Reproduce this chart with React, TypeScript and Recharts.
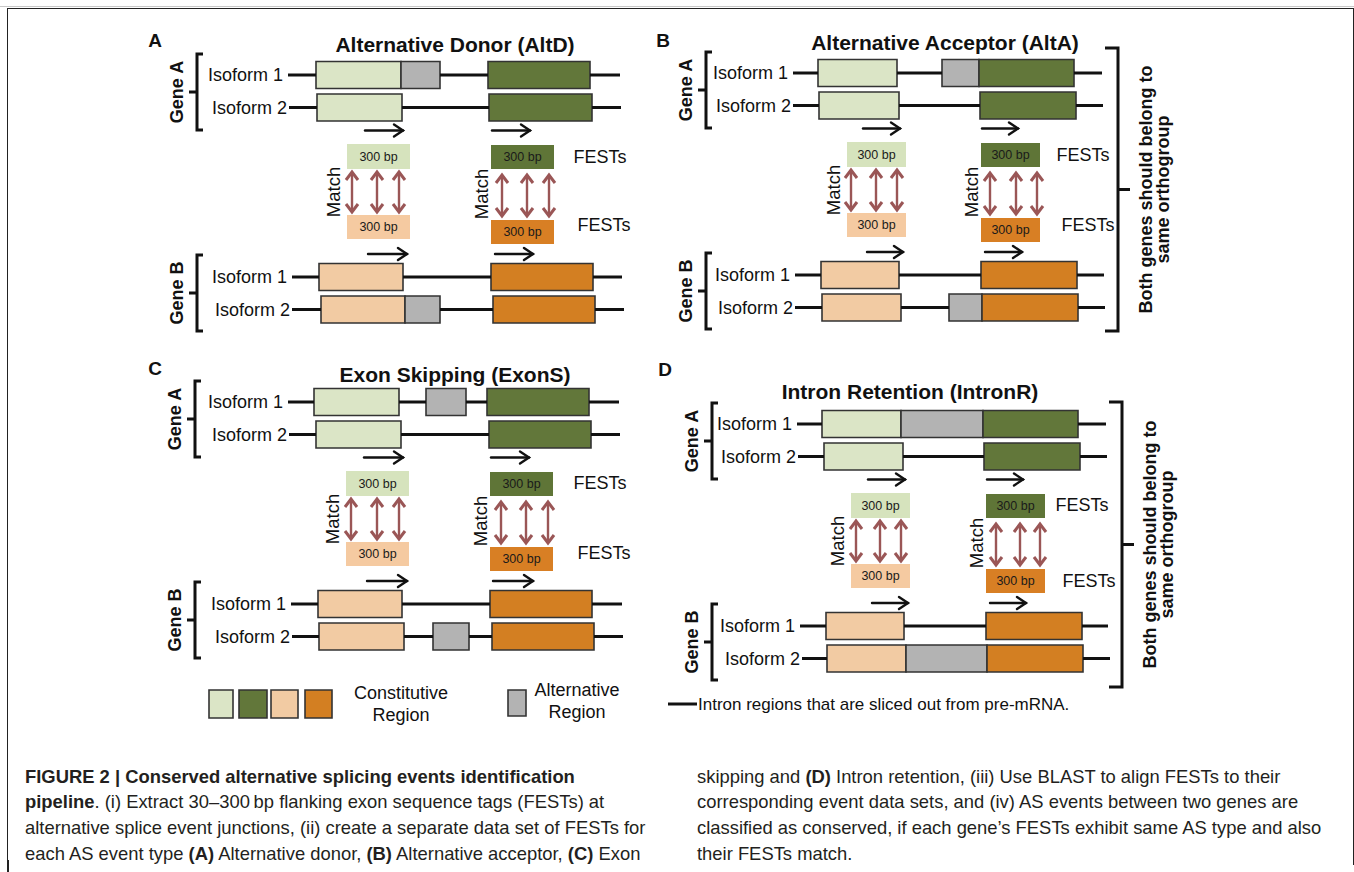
import React from "react";
import {
  ComposedChart,
  XAxis,
  YAxis,
  Scatter,
  ReferenceArea,
  ReferenceLine,
  ReferenceDot,
} from "recharts";

const FONT = "'Liberation Sans', Arial, Helvetica, sans-serif";
const W = 1354;
const H = 872;

const EXON_FILL: Record<string, string> = {
  lg: "#dbe5c6",
  dg: "#62773a",
  lo: "#f2cba3",
  do: "#d37f22",
  alt: "#b3b3b3",
};
const FEST_FILL = ["#d6e3bd", "#5f7537", "#f5caa1", "#d87f24"];

type Exon = [number, number, string];
type Row = { span: [number, number]; exons: Exon[] };

const isoformLabels = ["Isoform 1", "Isoform 2", "Isoform 1", "Isoform 2"];
const geneLabels = ["Gene A", "Gene B"];

// exon / intron coordinates along each locus, measured from the start of the first intron line
const altDRows: Row[] = [
  { span: [0, 332], exons: [[28, 113, "lg"], [113, 152, "alt"], [200, 302, "dg"]] },
  { span: [1, 333], exons: [[29, 114, "lg"], [201, 304, "dg"]] },
  { span: [4, 334], exons: [[31, 115, "lo"], [203, 305, "do"]] },
  { span: [4, 336], exons: [[33, 117, "lo"], [117, 152, "alt"], [205, 307, "do"]] },
];
const altARows: Row[] = [
  { span: [0, 309], exons: [[25, 104, "lg"], [149, 186, "alt"], [186, 281, "dg"]] },
  { span: [0, 310], exons: [[26, 106, "lg"], [187, 283, "dg"]] },
  { span: [2, 311], exons: [[28, 106, "lo"], [188, 284, "do"]] },
  { span: [2, 312], exons: [[29, 108, "lo"], [156, 189, "alt"], [189, 285, "do"]] },
];
const exonSRows: Row[] = [
  { span: [0, 331], exons: [[26, 111, "lg"], [138, 178, "alt"], [199, 301, "dg"]] },
  { span: [1, 332], exons: [[28, 113, "lg"], [201, 303, "dg"]] },
  { span: [3, 334], exons: [[30, 114, "lo"], [202, 304, "do"]] },
  { span: [4, 335], exons: [[31, 116, "lo"], [145, 181, "alt"], [204, 306, "do"]] },
];
const intronRRows: Row[] = [
  { span: [0, 309], exons: [[25, 104, "lg"], [104, 186, "alt"], [186, 281, "dg"]] },
  { span: [1, 310], exons: [[27, 106, "lg"], [187, 283, "dg"]] },
  { span: [3, 311], exons: [[29, 107, "lo"], [189, 285, "do"]] },
  { span: [5, 313], exons: [[30, 109, "lo"], [109, 190, "alt"], [190, 286, "do"]] },
];

// FEST block starts (left, right)
const altDFests = [59, 203];
const altAFests = [54, 188];
const exonSFests = [58, 202];
const intronRFests = [54, 189];

// match arrows (left group, right group)
const altDMatch = [[64, 89, 111], [214, 239, 261]];
const altAMatch = [[58, 83, 104], [197, 223, 244]];
const exonSMatch = [[63, 89, 111], [213, 238, 260]];
const intronRMatch = [[59, 83, 104], [199, 223, 243]];

// direction arrows: gene A left, gene A right, gene B left, gene B right
const altDArrows = [[77, 115], [204, 242], [80, 119], [207, 245]];
const altAArrows = [[70, 107], [189, 225], [74, 110], [192, 229]];
const exonSArrows = [[76, 115], [203, 241], [79, 119], [205, 245]];
const intronRArrows = [[71, 108], [190, 226], [75, 111], [193, 229]];

const festLabel = "300 bp";
const festsText = "FESTs";
const orthoLines = ["Both genes should belong to", "same orthogroup"];

const legendSwatches = [
  { x: [209, 233], fill: "lg" },
  { x: [239, 267], fill: "dg" },
  { x: [271, 298], fill: "lo" },
  { x: [305, 332], fill: "do" },
];
const legendAlt = { x: [508, 526], fill: "alt" };
const legendText = [
  { x: 401, lines: ["Constitutive", "Region"] },
  { x: 577, lines: ["Alternative", "Region"] },
];
const intronLegend = "Intron regions that are sliced out from pre-mRNA.";

const ROW_Y = [0, 32.5, 202, 234.5];
const EXON_HALF = 13.5;

type Panel = {
  letter: string;
  title: string;
  ox: number;
  oy: number;
  rows: Row[];
  fests: number[];
  festW: number;
  match: number[][];
  arrows: number[][];
  bracketX: number;
  titleX: number;
  titleY: number;
  letterPos: [number, number];
  festsLabelX: [number, number];
  festsLabelY: [number, number];
  big?: [number, number];
};

const panels: Panel[] = [
  {
    letter: "A", title: "Alternative Donor (AltD)", ox: 288, oy: 75, rows: altDRows,
    fests: altDFests, festW: 63, match: altDMatch, arrows: altDArrows, bracketX: -91,
    titleX: 167, titleY: -31, letterPos: [-133, -35], festsLabelX: [312, 316], festsLabelY: [82, 150],
  },
  {
    letter: "B", title: "Alternative Acceptor (AltA)", ox: 793, oy: 73, rows: altARows,
    fests: altAFests, festW: 59, match: altAMatch, arrows: altAArrows, bracketX: -87,
    titleX: 152, titleY: -31, letterPos: [-130, -33], festsLabelX: [290, 295], festsLabelY: [82, 152],
    big: [-25, 258],
  },
  {
    letter: "C", title: "Exon Skipping (ExonS)", ox: 288, oy: 402, rows: exonSRows,
    fests: exonSFests, festW: 63, match: exonSMatch, arrows: exonSArrows, bracketX: -93,
    titleX: 167, titleY: -28, letterPos: [-133, -34], festsLabelX: [312, 316], festsLabelY: [81, 151],
  },
  {
    letter: "D", title: "Intron Retention (IntronR)", ox: 797, oy: 424, rows: intronRRows,
    fests: intronRFests, festW: 59, match: intronRMatch, arrows: intronRArrows, bracketX: -85,
    titleX: 113, titleY: -33, letterPos: [-132, -55], festsLabelX: [285, 292], festsLabelY: [81, 157],
    big: [-22, 263],
  },
];

const textShape =
  (text: string, opts: { size: number; weight?: number; anchor?: string; rotate?: boolean }) =>
  (p: any) => (
    <text
      x={p.cx}
      y={p.cy}
      textAnchor={opts.anchor ?? "middle"}
      dominantBaseline="central"
      transform={opts.rotate ? `rotate(-90 ${p.cx} ${p.cy})` : undefined}
      style={{ fontFamily: FONT, fontSize: opts.size, fontWeight: opts.weight ?? 400, fill: "#111" }}
    >
      {text}
    </text>
  );

const arrowShape = (p: any) => (
  <g stroke="#111" strokeWidth={2.4} fill="none" strokeLinecap="round">
    <line x1={p.x1} y1={p.y1} x2={p.x2} y2={p.y2} />
    <polyline points={`${p.x2 - 9},${p.y2 - 6} ${p.x2},${p.y2} ${p.x2 - 9},${p.y2 + 6}`} />
  </g>
);

const matchShape = (p: any) => {
  const top = Math.min(p.y1, p.y2);
  const bot = Math.max(p.y1, p.y2);
  const x = p.x1;
  return (
    <g stroke="#9a5656" strokeWidth={2.4} fill="none" strokeLinejoin="miter">
      <line x1={x} y1={top + 1} x2={x} y2={bot - 1} />
      <polyline points={`${x - 6},${top + 9} ${x},${top + 1} ${x + 6},${top + 9}`} strokeWidth={3} />
      <polyline points={`${x - 6},${bot - 9} ${x},${bot - 1} ${x + 6},${bot - 9}`} strokeWidth={3} />
    </g>
  );
};

const leftBracket = (p: any) => {
  const top = Math.min(p.y1, p.y2);
  const bot = Math.max(p.y1, p.y2);
  const mid = (top + bot) / 2;
  const x = p.x1;
  return (
    <path
      d={`M${x + 6},${top} L${x},${top} L${x},${bot} L${x + 6},${bot} M${x},${mid} L${x - 8},${mid}`}
      stroke="#111"
      strokeWidth={3}
      fill="none"
    />
  );
};

const rightBracket = (p: any) => {
  const top = Math.min(p.y1, p.y2);
  const bot = Math.max(p.y1, p.y2);
  const mid = (top + bot) / 2;
  const x = p.x1;
  return (
    <path
      d={`M${x - 13},${top} L${x},${top} L${x},${bot} L${x - 13},${bot} M${x},${mid} L${x + 12},${mid}`}
      stroke="#111"
      strokeWidth={3}
      fill="none"
    />
  );
};

function intronSegments(row: Row): [number, number][] {
  const segs: [number, number][] = [];
  let cur = row.span[0];
  row.exons.forEach(([s, e]) => {
    if (s > cur) segs.push([cur, s]);
    cur = Math.max(cur, e);
  });
  if (row.span[1] > cur) segs.push([cur, row.span[1]]);
  return segs;
}

function renderPanel(pn: Panel) {
  const X = (v: number) => pn.ox + v;
  const Y = (v: number) => pn.oy + v;
  const out: React.ReactNode[] = [];
  const k = pn.letter;

  out.push(
    <ReferenceDot key={`${k}-letter`} x={X(pn.letterPos[0])} y={Y(pn.letterPos[1])} r={0} ifOverflow="visible"
      shape={textShape(pn.letter, { size: 19, weight: 700 })} />,
    <ReferenceDot key={`${k}-title`} x={X(pn.titleX)} y={Y(pn.titleY)} r={0} ifOverflow="visible"
      shape={textShape(pn.title, { size: 21, weight: 700 })} />,
  );

  // gene brackets and labels
  [[-21, 55], [180, 256]].forEach(([a, b], gi) => {
    out.push(
      <ReferenceLine key={`${k}-br${gi}`} segment={[{ x: X(pn.bracketX), y: Y(a) }, { x: X(pn.bracketX), y: Y(b) }]}
        ifOverflow="visible" shape={leftBracket} />,
      <ReferenceDot key={`${k}-gene${gi}`} x={X(pn.bracketX - 20)} y={Y((a + b) / 2)} r={0} ifOverflow="visible"
        shape={textShape(geneLabels[gi], { size: 18, weight: 700, rotate: true })} />,
    );
  });

  // isoform rows
  pn.rows.forEach((row, ri) => {
    const y = Y(ROW_Y[ri]);
    intronSegments(row).forEach(([s, e], si) => {
      out.push(
        <ReferenceLine key={`${k}-in${ri}-${si}`} segment={[{ x: X(s), y }, { x: X(e), y }]}
          stroke="#111" strokeWidth={3} ifOverflow="visible" />,
      );
    });
    row.exons.forEach(([s, e, c], ei) => {
      out.push(
        <ReferenceArea key={`${k}-ex${ri}-${ei}`} x1={X(s)} x2={X(e)} y1={y - EXON_HALF} y2={y + EXON_HALF}
          fill={EXON_FILL[c]} fillOpacity={1} stroke="#333" strokeWidth={1.6} ifOverflow="visible" />,
      );
    });
    out.push(
      <ReferenceDot key={`${k}-iso${ri}`} x={X(row.span[0] - (ri % 2 === 0 ? 5 : 2))} y={y} r={0} ifOverflow="visible"
        shape={textShape(isoformLabels[ri], { size: 18, anchor: "end" })} />,
    );
  });

  // direction arrows
  pn.arrows.forEach(([s, e], ai) => {
    const y = Y(ai < 2 ? 55.5 : 179);
    out.push(
      <ReferenceLine key={`${k}-ar${ai}`} segment={[{ x: X(s), y }, { x: X(e), y }]} ifOverflow="visible" shape={arrowShape} />,
    );
  });

  // FEST blocks
  const festY = [
    [[69, 94], [140, 164]],
    [[70, 94], [145, 169]],
  ];
  pn.fests.forEach((fx, side) => {
    [0, 1].forEach((lvl) => {
      const [a, b] = festY[side][lvl];
      out.push(
        <ReferenceArea key={`${k}-fest${side}-${lvl}`} x1={X(fx)} x2={X(fx + pn.festW)} y1={Y(a)} y2={Y(b)}
          fill={FEST_FILL[lvl * 2 + side]} fillOpacity={1} stroke="none" ifOverflow="visible"
          label={{ value: festLabel, position: "center", fill: "#1a1a1a", fontSize: 12.5, fontFamily: FONT }} />,
      );
    });
  });

  // match arrows and text
  const matchY = [[96, 138], [99, 142]];
  pn.match.forEach((xs, side) => {
    xs.forEach((mx, mi) => {
      out.push(
        <ReferenceLine key={`${k}-m${side}-${mi}`} segment={[{ x: X(mx), y: Y(matchY[side][0]) }, { x: X(mx), y: Y(matchY[side][1]) }]}
          ifOverflow="visible" shape={matchShape} />,
      );
    });
    out.push(
      <ReferenceDot key={`${k}-mt${side}`} x={X(pn.fests[side] - (side === 0 ? 14 : 10))} y={Y(side === 0 ? 117 : 119)}
        r={0} ifOverflow="visible" shape={textShape("Match", { size: 18.5, rotate: true })} />,
    );
  });

  // FESTs labels
  [0, 1].forEach((lvl) => {
    out.push(
      <ReferenceDot key={`${k}-fl${lvl}`} x={X(pn.festsLabelX[lvl])} y={Y(pn.festsLabelY[lvl])} r={0} ifOverflow="visible"
        shape={textShape(festsText, { size: 18 })} />,
    );
  });

  // orthogroup bracket
  if (pn.big) {
    const [a, b] = pn.big;
    out.push(
      <ReferenceLine key={`${k}-big`} segment={[{ x: X(325), y: Y(a) }, { x: X(325), y: Y(b) }]} ifOverflow="visible" shape={rightBracket} />,
    );
    orthoLines.forEach((t, ti) => {
      out.push(
        <ReferenceDot key={`${k}-ot${ti}`} x={X(353 + ti * 17)} y={Y((a + b) / 2)} r={0} ifOverflow="visible"
          shape={textShape(t, { size: 18, weight: 700, rotate: true })} />,
      );
    });
  }
  return out;
}

const captionLeft: React.ReactNode[] = [
  <><b>FIGURE 2 | Conserved alternative splicing events identification</b></>,
  <><b>pipeline</b>. (i) Extract 30–300{"\u2009"}bp flanking exon sequence tags (FESTs) at</>,
  <>alternative splice event junctions, (ii) create a separate data set of FESTs for</>,
  <>each AS event type <b>(A)</b> Alternative donor, <b>(B)</b> Alternative acceptor, <b>(C)</b> Exon</>,
];
const captionRight: React.ReactNode[] = [
  <>skipping and <b>(D)</b> Intron retention, (iii) Use BLAST to align FESTs to their</>,
  <>corresponding event data sets, and (iv) AS events between two genes are</>,
  <>classified as conserved, if each gene’s FESTs exhibit same AS type and also</>,
  <>their FESTs match.</>,
];
const captionY = [777, 802, 828, 854];

export default function App() {
  const anchor = [{ x: 0, y: 0 }];
  return (
    <div style={{ position: "absolute", left: 0, top: 0, width: W, height: H, background: "#fff", overflow: "hidden" }}>
      <div style={{ position: "absolute", left: 0, top: 6, width: W, height: 1, background: "#c8c8c8" }} />
      <div style={{ position: "absolute", left: 7, top: 8, width: 1345, height: 856, borderTop: "1.5px solid #222", borderLeft: "1.5px solid #222", borderRight: "1.5px solid #222" }} />
      <div style={{ position: "absolute", left: 7, top: 860, width: 2, height: 12, background: "#222" }} />
      <div style={{ position: "absolute", left: 0, top: 0 }}>
        <ComposedChart width={W} height={H} margin={{ top: 0, right: 0, bottom: 0, left: 0 }}>
          <XAxis type="number" dataKey="x" domain={[0, W]} hide allowDataOverflow />
          <YAxis type="number" dataKey="y" domain={[0, H]} reversed hide allowDataOverflow />
          <Scatter data={anchor} isAnimationActive={false} shape={() => <g />} />
          {panels.flatMap((p) => renderPanel(p))}
          {legendSwatches.map((s, i) => (
            <ReferenceArea key={`lg${i}`} x1={s.x[0]} x2={s.x[1]} y1={690} y2={718} fill={EXON_FILL[s.fill]} fillOpacity={1}
              stroke="#333" strokeWidth={1.6} ifOverflow="visible" />
          ))}
          <ReferenceArea x1={legendAlt.x[0]} x2={legendAlt.x[1]} y1={690} y2={716} fill={EXON_FILL[legendAlt.fill]} fillOpacity={1}
            stroke="#333" strokeWidth={1.6} ifOverflow="visible" />
          {legendText.flatMap((t, i) =>
            t.lines.map((ln, li) => (
              <ReferenceDot key={`lt${i}-${li}`} x={t.x} y={(i === 0 ? 693 : 690) + li * 21.5} r={0} ifOverflow="visible"
                shape={textShape(ln, { size: 18 })} />
            )),
          )}
          <ReferenceLine segment={[{ x: 668, y: 704 }, { x: 697, y: 704 }]} stroke="#111" strokeWidth={3} ifOverflow="visible" />
          <ReferenceDot x={698} y={704} r={0} ifOverflow="visible" shape={textShape(intronLegend, { size: 17, anchor: "start" })} />
        </ComposedChart>
      </div>
      {[captionLeft, captionRight].map((col, ci) =>
        col.map((ln, li) => (
          <div key={`c${ci}-${li}`} style={{ position: "absolute", left: ci === 0 ? 25 : 697, top: captionY[li] - 13, height: 26, lineHeight: "26px",
            whiteSpace: "nowrap", fontFamily: FONT, fontSize: 18.4, color: "#231f20" }}>
            {ln}
          </div>
        )),
      )}
    </div>
  );
}
